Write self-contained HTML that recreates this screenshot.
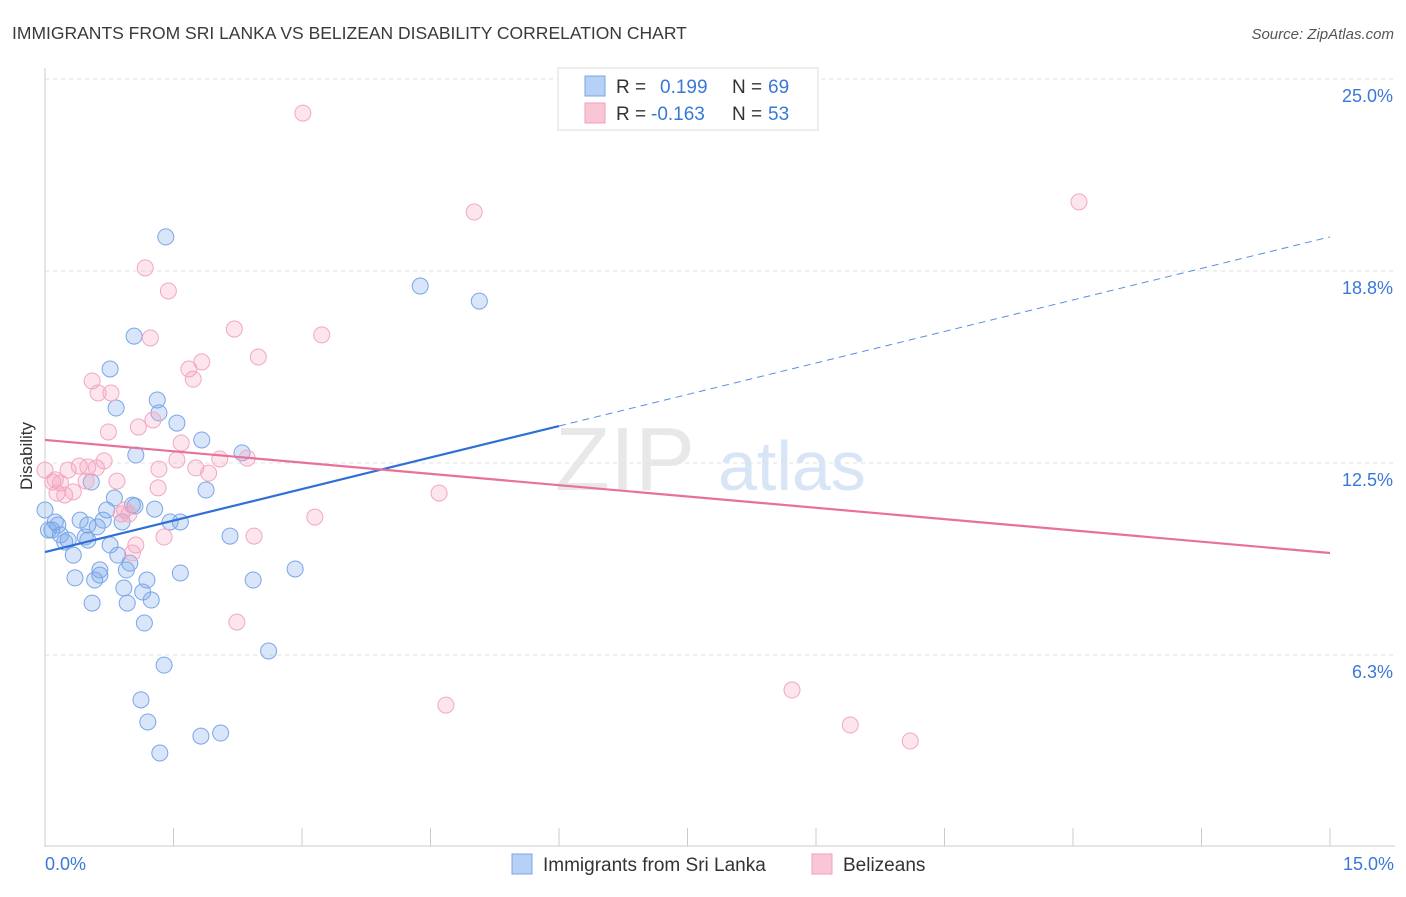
<!DOCTYPE html>
<html><head><meta charset="utf-8"><style>
body{margin:0;background:#fff;font-family:"Liberation Sans",sans-serif;}
svg text{font-family:"Liberation Sans",sans-serif;}
</style></head><body>
<svg id="chart" width="1406" height="892" xmlns="http://www.w3.org/2000/svg">
<text x="12" y="39" font-size="17.5" fill="#3a3a3a">IMMIGRANTS FROM SRI LANKA VS BELIZEAN DISABILITY CORRELATION CHART</text>
<text x="1394" y="39" font-size="15" fill="#555" font-style="italic" text-anchor="end">Source: ZipAtlas.com</text>
<text x="32" y="456" font-size="17" fill="#333" transform="rotate(-90 32 456)" text-anchor="middle">Disability</text>
<text x="555" y="490" font-size="90" fill="#e8e8e8" font-family="Liberation Serif">ZIP</text>
<text x="718" y="490" font-size="70" fill="#d8e5f6">atlas</text>
<g id="grid"></g><g id="pts"></g><g id="trend"></g>
<g>
<rect x="558" y="68" width="260" height="62" fill="#fff" stroke="#ddd"/>
<rect x="585" y="76" width="20" height="20" fill="#b7d0f5" stroke="#7aa6e8"/>
<rect x="585" y="103" width="20" height="20" fill="#f9c6d6" stroke="#f0a0bb"/>
<text x="616" y="93" font-size="19" fill="#333">R = </text><text x="660" y="93" font-size="19" fill="#3a78d8">0.199</text>
<text x="732" y="93" font-size="19" fill="#333">N = </text><text x="768" y="93" font-size="19" fill="#3a78d8">69</text>
<text x="616" y="120" font-size="19" fill="#333">R = </text><text x="651" y="120" font-size="19" fill="#3a78d8">-0.163</text>
<text x="732" y="120" font-size="19" fill="#333">N = </text><text x="768" y="120" font-size="19" fill="#3a78d8">53</text>
</g>
<g>
<rect x="512" y="854" width="20" height="20" fill="#b7d0f5" stroke="#7aa6e8"/>
<text x="543" y="871" font-size="19" fill="#333">Immigrants from Sri Lanka</text>
<rect x="812" y="854" width="20" height="20" fill="#f9c6d6" stroke="#f0a0bb"/>
<text x="843" y="871" font-size="19" fill="#333">Belizeans</text>
</g>
<text x="45" y="870" font-size="18" fill="#3a78d8">0.0%</text>
<text x="1394" y="870" font-size="18" fill="#3a78d8" text-anchor="end">15.0%</text>
</svg>
<script>
const blueX=[1.41,4.38,5.07,1.04,0.76,1.31,0.83,1.33,1.54,1.83,2.30,1.06,0.54,1.88,0.81,1.02,0.72,1.28,1.46,1.58,0.0,0.12,0.41,0.50,0.61,0.90,0.08,0.18,0.27,0.50,0.76,2.16,0.33,0.85,0.99,0.64,0.95,0.35,0.58,0.64,1.19,1.58,2.43,2.92,0.92,1.14,0.55,0.96,1.24,1.16,2.61,1.39,1.12,1.20,1.82,2.05,1.34,0.04,0.15,0.23,0.47,0.68,1.05];
const blueY=[19.86,18.26,17.77,16.63,15.56,14.55,14.29,14.13,13.80,13.25,12.83,12.76,11.88,11.62,11.36,11.13,10.97,11.00,10.58,10.58,10.97,10.58,10.64,10.48,10.42,10.58,10.32,10.16,9.99,9.99,9.83,10.12,9.50,9.50,9.24,9.02,9.02,8.76,8.69,8.85,8.69,8.92,8.69,9.05,8.43,8.30,7.94,7.94,8.04,7.29,6.38,5.92,4.79,4.07,3.61,3.71,3.06,10.32,10.48,9.93,10.09,10.64,11.10];
const pinkX=[3.01,5.01,12.07,1.17,1.44,2.21,3.23,1.23,2.49,1.83,1.68,1.73,0.55,0.62,0.77,0.74,1.09,1.26,1.59,2.04,0,0.12,0.27,0.40,0.50,0.60,0.69,0.48,0.84,1.33,1.54,1.76,1.91,2.36,0.14,0.23,0.33,0.09,1.32,0.93,0.89,0.98,4.60,3.15,1.39,1.06,1.02,2.44,2.24,8.72,4.68,9.40,10.10,0.18];
const pinkY=[23.89,20.67,21.0,18.85,18.10,16.86,16.67,16.57,15.95,15.79,15.56,15.23,15.17,14.78,14.78,13.51,13.67,13.90,13.15,12.63,12.27,11.95,12.27,12.40,12.37,12.34,12.57,11.91,11.91,12.30,12.60,12.34,12.17,12.66,11.52,11.46,11.56,11.88,11.69,10.97,10.84,10.84,11.52,10.74,10.09,9.83,9.57,10.12,7.32,5.11,4.62,3.97,3.45,11.85];
const blueTrend=[9.60,19.86]; // y at x=0 and x=15
const blueSolidEnd=6.0;
const pinkTrend=[13.25,9.57];
const yTicks=[25.0,18.75,12.5,6.25];
const yTickLabels=["25.0%","18.8%","12.5%","6.3%"];
const xTicks=[0,1.5,3,4.5,6,7.5,9,10.5,12,13.5,15];
const NS="http://www.w3.org/2000/svg";
const X=v=>45+v*85.667, Y=v=>847-v*30.72;
function mk(tag,attrs,parent){const e=document.createElementNS(NS,tag);for(const k in attrs)e.setAttribute(k,attrs[k]);parent.appendChild(e);return e;}
const grid=document.getElementById('grid');
yTicks.forEach((t,i)=>{
 const l=mk('line',{x1:45,x2:1395,y1:Y(t),y2:Y(t),stroke:'#e2e2e2','stroke-dasharray':'4,4'},grid);
 
 
 const tx=mk('text',{x:1393,y:Y(t)+23,'font-size':18,fill:'#3a78d8','text-anchor':'end'},grid);
 tx.textContent=yTickLabels[i];
 
 
});
mk('line',{x1:45,x2:45,y1:68,y2:847,stroke:'#ccc'},grid);
mk('line',{x1:45,x2:1395,y1:846,y2:846,stroke:'#ccc'},grid);
xTicks.forEach(t=>{
 const l=mk('line',{x1:X(t),x2:X(t),y1:828,y2:846,stroke:'#ccc'},grid);
 
 
});
const pts=document.getElementById('pts');
blueX.forEach((x,i)=>{
 const c=mk('circle',{cx:X(x),cy:Y(blueY[i]),r:8,fill:'rgba(120,165,235,0.28)',stroke:'#7aa6e8','stroke-width':1},pts);
 
 
});
pinkX.forEach((x,i)=>{
 const c=mk('circle',{cx:X(x),cy:Y(pinkY[i]),r:8,fill:'rgba(245,160,190,0.28)',stroke:'#f2a8c0','stroke-width':1},pts);
 
 
});
const tr=document.getElementById('trend');
const bAt=x=>blueTrend[0]+(blueTrend[1]-blueTrend[0])*x/15;
const b1=mk('line',{x1:X(0),y1:Y(blueTrend[0]),x2:X(blueSolidEnd),y2:Y(bAt(blueSolidEnd)),stroke:'#2f6fd6','stroke-width':2.2},tr);


const b2=mk('line',{x1:X(blueSolidEnd),y1:Y(bAt(blueSolidEnd)),x2:X(15),y2:Y(blueTrend[1]),stroke:'#5a8fdf','stroke-width':1,'stroke-dasharray':'7,5'},tr);


const p1=mk('line',{x1:X(0),y1:Y(pinkTrend[0]),x2:X(15),y2:Y(pinkTrend[1]),stroke:'#e8709a','stroke-width':2.2},tr);


</script>
</body></html>
